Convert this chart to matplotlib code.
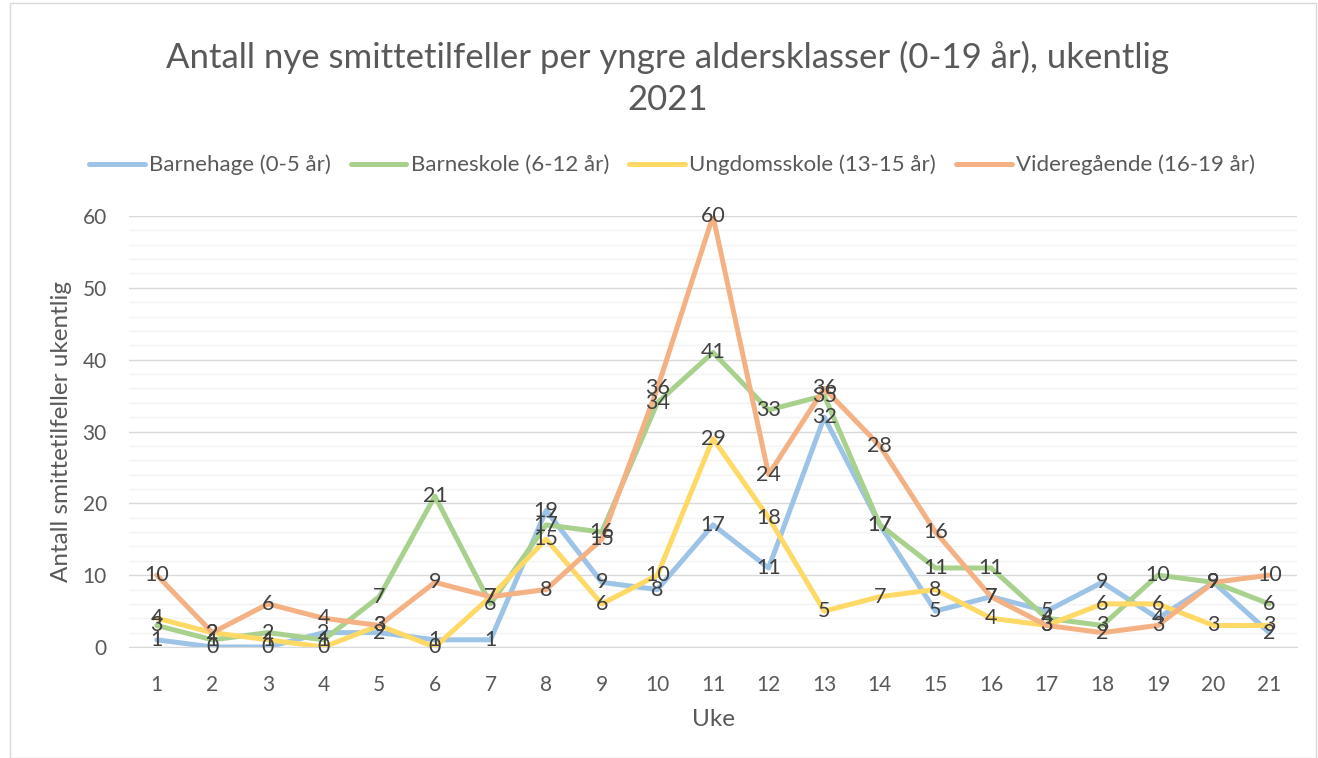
import numpy as np
import matplotlib.pyplot as plt
from matplotlib.patches import Rectangle

plt.rcParams['font.family'] = ['Lato', 'DejaVu Sans']

uker = np.arange(1, 22)
barnehage = [1, 0, 0, 2, 2, 1, 1, 19, 9, 8, 17, 11, 32, 17, 5, 7, 5, 9, 4, 9, 2]
barneskole = [3, 1, 2, 1, 7, 21, 6, 17, 16, 34, 41, 33, 35, 17, 11, 11, 4, 3, 10, 9, 6]
ungdomsskole = [4, 2, 1, 0, 3, 0, 7, 15, 6, 10, 29, 18, 5, 7, 8, 4, 3, 6, 6, 3, 3]
videregaende = [10, 2, 6, 4, 3, 9, 7, 8, 15, 36, 60, 24, 36, 28, 16, 7, 3, 2, 3, 9, 10]

serier = [
    ("Barnehage (0-5 år)", barnehage, "#9DC3E6"),
    ("Barneskole (6-12 år)", barneskole, "#A9D18E"),
    ("Ungdomsskole (13-15 år)", ungdomsskole, "#FFD966"),
    ("Videregående (16-19 år)", videregaende, "#F4B183"),
]

tekst = "#595959"
fig = plt.figure(figsize=(13.18, 7.58), dpi=100)
ax = fig.add_axes([129 / 1318, 1 - 647 / 758, (1297 - 129) / 1318, (647 - 216) / 758])

# ramme rundt hele figuren
fig.patches.append(Rectangle((10 / 1318, 0), 1306 / 1318, 1 - 3 / 758, transform=fig.transFigure,
                             fill=False, edgecolor="#D9D9D9", linewidth=1))

for navn, verdier, farge in serier:
    ax.plot(uker, verdier, color=farge, linewidth=3.6, label=navn, solid_capstyle="round")

# dataetiketter oppå linjene
for navn, verdier, farge in serier:
    for x, v in zip(uker, verdier):
        ax.text(x, v, str(v), ha="center", va="center", fontsize=15.5, color="#404040", zorder=5)

ax.set_xlim(0.5, 21.5)
ax.set_ylim(0, 60)
ax.set_xticks(uker)
ax.set_yticks(np.arange(0, 61, 10))
ax.set_yticks(np.arange(0, 61, 2), minor=True)
ax.grid(axis="y", which="major", color="#D9D9D9", linewidth=1)
ax.grid(axis="y", which="minor", color="#F2F2F2", linewidth=1)
ax.set_axisbelow(True)
for s in ["top", "right", "left"]:
    ax.spines[s].set_visible(False)
ax.spines["bottom"].set_color("#D9D9D9")
ax.tick_params(which="both", length=0, labelsize=15, colors=tekst)
ax.tick_params(axis="x", pad=20)
ax.tick_params(axis="y", pad=16)

ax.set_xlabel("Uke", fontsize=17.5, color=tekst, labelpad=10)
ax.set_ylabel("Antall smittetilfeller ukentlig", fontsize=17.5, color=tekst, va="center")
ax.yaxis.set_label_coords((62 - 129) / 1168, 0.5)

fig.text(668 / 1318, 1 - 57 / 758, "Antall nye smittetilfeller per yngre aldersklasser (0-19 år), ukentlig",
         ha="center", va="center", fontsize=25, color=tekst)
fig.text(668 / 1318, 1 - 100 / 758, "2021", ha="center", va="center", fontsize=25, color=tekst)

fig.legend(loc="center", bbox_to_anchor=(672 / 1318, 1 - 165 / 758), ncol=4, frameon=False,
           fontsize=16, labelcolor=tekst, handlelength=2.5, handletextpad=0.2, columnspacing=0.9)

fig.savefig("out.png", dpi=100)
